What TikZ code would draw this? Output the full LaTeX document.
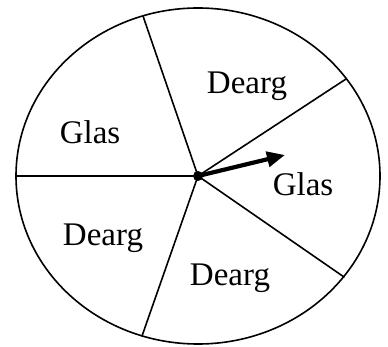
\documentclass[tikz,border=0pt]{standalone}
\usepackage{fontspec}
\setmainfont{Liberation Serif}
\usetikzlibrary{arrows.meta}
\begin{document}
\begin{tikzpicture}[x=1pt, y=-1pt, line width=1.6pt, line join=round, line cap=round, >={Triangle[length=18pt,width=15pt]}, font=\fontsize{33}{38}\selectfont]
	\useasboundingbox (0,0) rectangle (388,347);
	\path (198,176) coordinate (O)
		(143,16) coordinate (A) (346,79) coordinate (B) (344,277) coordinate (C) (142,336) coordinate (D) (16,176) coordinate (E)
		(285,155) coordinate (P);
	\draw (O) ellipse [x radius=182pt, y radius=168pt];
	\foreach \x in {A,B,C,D,E} \draw (O)--(\x);
	\draw[->, line width=4.2pt, line cap=butt] (O)--(P);
	\fill (O) circle (5pt);
	\foreach \n/\p/\t in {dtop/{(247,86)}/Dearg, gleft/{(90,132)}/Glas, gright/{(303,184)}/Glas, dleft/{(103,238)}/Dearg, dbot/{(230,278)}/Dearg}
		\node (\n) at \p {\t};
\end{tikzpicture}
\end{document}
